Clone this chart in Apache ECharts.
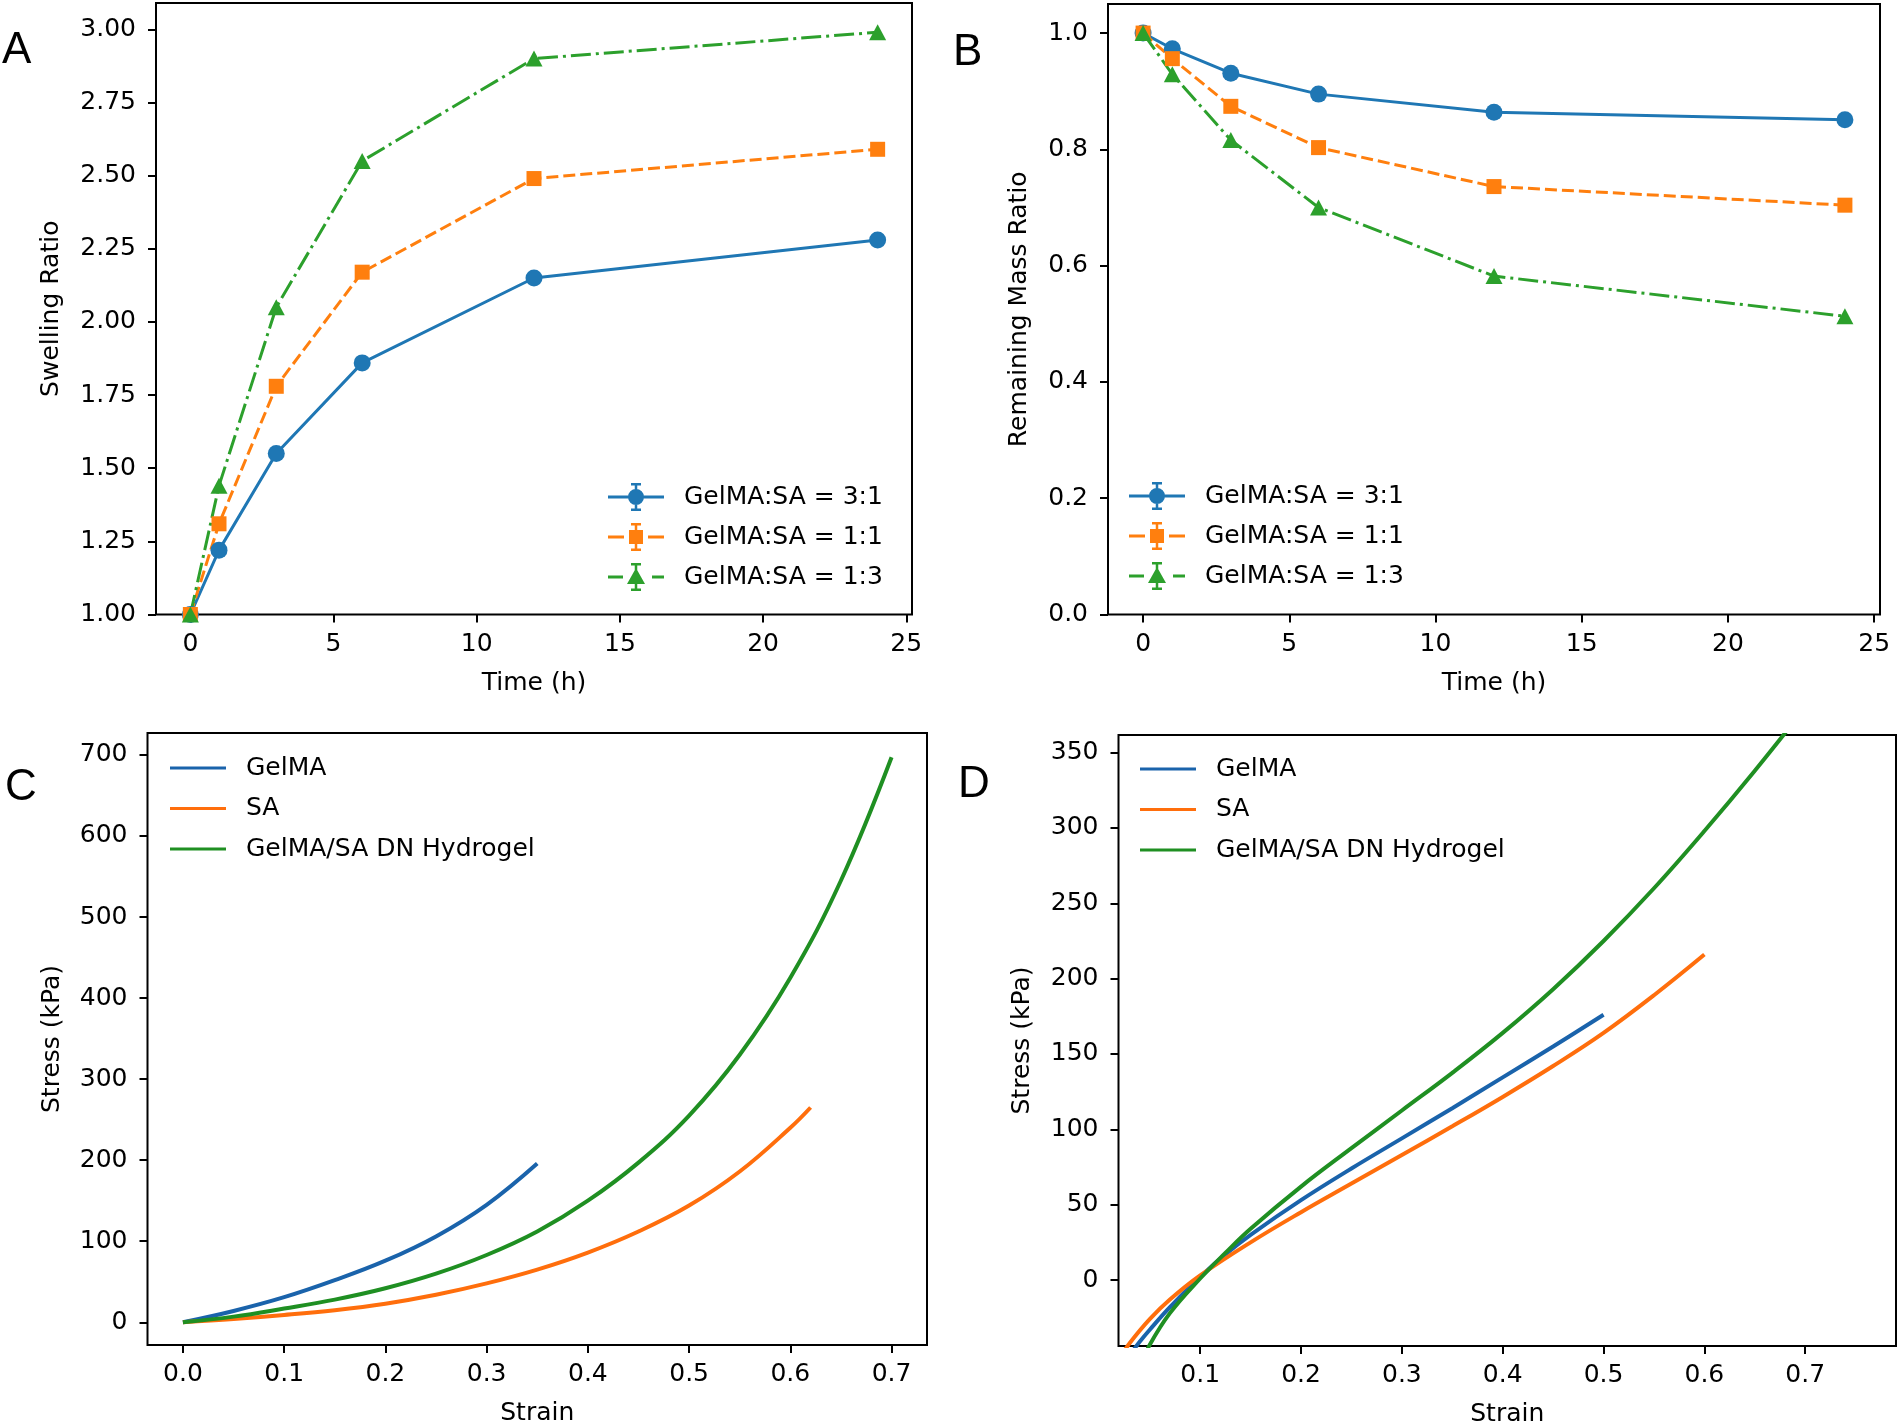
<!DOCTYPE html>
<html>
<head>
<meta charset="utf-8">
<script src="https://cdn.jsdelivr.net/npm/echarts@6/dist/echarts.min.js"></script>
<style>
  html, body { margin: 0; padding: 0; background: #fff; }
  #main { width: 1900px; height: 1425px; }
</style>
</head>
<body>
<div id="main"></div>
<script>
// ---- data ----
const timeH = [0, 1, 3, 6, 12, 24];
const swell31 = [1.00, 1.22, 1.55, 1.86, 2.15, 2.28];
const swell11 = [1.00, 1.31, 1.78, 2.17, 2.49, 2.59];
const swell13 = [1.00, 1.44, 2.05, 2.55, 2.90, 2.99];
const mass31 = [1.00, 0.973, 0.931, 0.895, 0.864, 0.851];
const mass11 = [1.00, 0.956, 0.874, 0.803, 0.736, 0.704];
const mass13 = [1.00, 0.929, 0.816, 0.700, 0.582, 0.513];

// panel C
const strainGelC = [0, 0.05, 0.1, 0.15, 0.2, 0.25, 0.3, 0.35];
const stressGelC = [0, 14, 31, 52, 76, 106, 145, 196];
const strainSaC = [0, 0.05, 0.1, 0.15, 0.2, 0.25, 0.3, 0.35, 0.4, 0.45, 0.5, 0.55, 0.6, 0.62];
const stressSaC = [0, 4, 9, 15, 23, 34, 48, 65, 86, 112, 144, 186, 240, 265];
const strainDnC = [0, 0.05, 0.1, 0.15, 0.2, 0.25, 0.3, 0.35, 0.4, 0.45, 0.5, 0.55, 0.6, 0.65, 0.7];
const stressDnC = [0, 7, 17, 28, 42, 60, 83, 112, 150, 197, 255, 330, 425, 545, 697];

// panel D
const strainGelD = [0.03, 0.04, 0.05, 0.07, 0.1, 0.125, 0.15, 0.2, 0.25, 0.3, 0.35, 0.4, 0.45, 0.5];
const stressGelD = [-50, -41, -33, -18, 2, 17, 30, 53, 74, 94, 114, 134.5, 155, 176];
const strainSaD = [0.02, 0.03, 0.05, 0.07, 0.1, 0.15, 0.2, 0.25, 0.3, 0.35, 0.4, 0.45, 0.5, 0.55, 0.6];
const stressSaD = [-52, -42, -26, -13, 3, 25, 45, 64, 83, 102, 121.5, 142, 164, 189, 216];
const strainDnD = [0.04, 0.05, 0.07, 0.1, 0.125, 0.15, 0.2, 0.25, 0.3, 0.35, 0.4, 0.45, 0.5, 0.55, 0.6, 0.65, 0.7];
const stressDnD = [-58, -43, -22, 1, 18, 34, 62, 87.5, 112.5, 137.5, 164, 193, 225, 260, 298, 338, 380];

// tick labels
const timeTicks = [0, 5, 10, 15, 20, 25];
const swellTicks = [1.0, 1.25, 1.5, 1.75, 2.0, 2.25, 2.5, 2.75, 3.0];
const massTicks = [0, 0.2, 0.4, 0.6, 0.8, 1.0];
const strainTicksC = [0, 0.1, 0.2, 0.3, 0.4, 0.5, 0.6, 0.7];
const stressTicksC = [0, 100, 200, 300, 400, 500, 600, 700];
const strainTicksD = [0.1, 0.2, 0.3, 0.4, 0.5, 0.6, 0.7];
const stressTicksD = [0, 50, 100, 150, 200, 250, 300, 350];

const ratioNames = ['GelMA:SA = 3:1', 'GelMA:SA = 1:1', 'GelMA:SA = 1:3'];
const gelNames = ['GelMA', 'SA', 'GelMA/SA DN Hydrogel'];

const BLUE = '#1f77b4', ORANGE = '#ff7f0e', GREEN = '#2ca02c';
const BLUE2 = '#1a63ab', ORANGE2 = '#ff6e0c', GREEN2 = '#1f8f22';
const FONT = 'DejaVu Sans';

function pairs(xs, ys) { return xs.map((x, i) => [x, ys[i]]); }

// legend icons (line + marker + error bar), 56 x 28 box
const ebar = ' M26.75 1 H29.25 V27 H26.75 Z M23 0 H33 V2.5 H23 Z M23 25.5 H33 V28 H23 Z';
const iconBlue = 'path://M0 12.5 H56 V15.5 H0 Z M20 14 A8 8 0 1 1 36 14 A8 8 0 1 1 20 14 Z' + ebar;
const iconOrange = 'path://M0 12.5 H16 V15.5 H0 Z M40 12.5 H56 V15.5 H40 Z M21 7 H35 V21 H21 Z' + ebar;
const iconGreen = 'path://M0 12.5 H15 V15.5 H0 Z M44 12.5 H56 V15.5 H44 Z M28 5 L37 21 H19 Z' + ebar;
const iconLine = 'path://M0 0 H56 V3 H0 Z';

function axisCommon(extra) {
  return Object.assign({
    type: 'value',
    axisLine: { show: false, onZero: false },
    splitLine: { show: false },
    nameLocation: 'middle',
    nameTextStyle: { fontFamily: FONT, fontSize: 25, color: '#000' }
  }, extra);
}
function xAx(grid, min, max, ticks, dec, name) {
  return axisCommon({
    gridIndex: grid, min: min, max: max, name: name, nameGap: 56,
    axisTick: { show: true, inside: false, length: 8, customValues: ticks, lineStyle: { color: '#000', width: 2 } },
    axisLabel: { customValues: ticks, margin: 17, fontFamily: FONT, fontSize: 25, color: '#000',
      formatter: v => v.toFixed(dec) }
  });
}
function yAx(grid, min, max, ticks, dec, name, gap) {
  return axisCommon({
    gridIndex: grid, min: min, max: max, name: name, nameGap: gap,
    axisTick: { show: true, inside: false, length: 8, customValues: ticks, lineStyle: { color: '#000', width: 2 } },
    axisLabel: { customValues: ticks, margin: 20, fontFamily: FONT, fontSize: 25, color: '#000',
      formatter: v => v.toFixed(dec) }
  });
}
function gridBox(left, top, right, bottom) {
  return { left: left, top: top, width: right - left, height: bottom - top, show: true,
    borderColor: '#000', borderWidth: 2, backgroundColor: 'transparent', containLabel: false, outerBoundsMode: 'none' };
}
function markerSeries(name, xi, ys, color, symbol, size, dash) {
  return {
    name: name, type: 'line', xAxisIndex: xi, yAxisIndex: xi, data: pairs(timeH, ys),
    symbol: symbol, symbolSize: size, showSymbol: true,
    lineStyle: { color: color, width: 3, type: dash, cap: 'butt' },
    itemStyle: { color: color, borderWidth: 0 },
    emphasis: { disabled: true }
  };
}
function curve(name, xi, xs, ys, color) {
  return {
    name: name, type: 'line', xAxisIndex: xi, yAxisIndex: xi, data: pairs(xs, ys),
    symbol: 'none', smooth: 0.4, clip: true,
    lineStyle: { color: color, width: 4 },
    itemStyle: { color: color },
    emphasis: { disabled: true }
  };
}
function legendAB(left, top) {
  return {
    left: left, top: top, orient: 'vertical', padding: 0, itemGap: 12,
    itemWidth: 56, itemHeight: 28, selectedMode: false,
    textStyle: { fontFamily: FONT, fontSize: 25, color: '#000', lineHeight: 28, padding: [0, 0, 0, 15] },
    data: [
      { name: ratioNames[0], icon: iconBlue, itemStyle: { color: BLUE, borderWidth: 0 } },
      { name: ratioNames[1], icon: iconOrange, itemStyle: { color: ORANGE, borderWidth: 0 } },
      { name: ratioNames[2], icon: iconGreen, itemStyle: { color: GREEN, borderWidth: 0 } }
    ]
  };
}
function legendCD(left, top) {
  return {
    left: left, top: top, orient: 'vertical', padding: 0, itemGap: 12.5,
    itemWidth: 56, itemHeight: 3.5, selectedMode: false,
    textStyle: { fontFamily: FONT, fontSize: 25, color: '#000', lineHeight: 28, padding: [0, 0, 0, 15] },
    data: [
      { name: gelNames[0], icon: iconLine, itemStyle: { color: BLUE2, borderWidth: 0 } },
      { name: gelNames[1], icon: iconLine, itemStyle: { color: ORANGE2, borderWidth: 0 } },
      { name: gelNames[2], icon: iconLine, itemStyle: { color: GREEN2, borderWidth: 0 } }
    ]
  };
}
function letter(t, x, y) {
  return { type: 'text', x: x, y: y,
    style: { text: t, fontFamily: 'Liberation Sans', fontSize: 44, fill: '#000', verticalAlign: 'middle' } };
}

const chart = echarts.init(document.getElementById('main'));
chart.setOption({
  animation: false,
  backgroundColor: '#fff',
  grid: [
    gridBox(156, 3, 912, 614.5),
    gridBox(1108, 4, 1880, 614.5),
    gridBox(147.5, 733, 927, 1345),
    gridBox(1118.5, 735, 1896, 1346)
  ],
  xAxis: [
    xAx(0, -1.2, 25.2, timeTicks, 0, 'Time (h)'),
    xAx(1, -1.2, 25.2, timeTicks, 0, 'Time (h)'),
    xAx(2, -0.035, 0.735, strainTicksC, 1, 'Strain'),
    xAx(3, 0.019, 0.79, strainTicksD, 1, 'Strain')
  ],
  yAxis: [
    yAx(0, 1.0, 3.09, swellTicks, 2, 'Swelling Ratio', 92),
    yAx(1, 0, 1.05, massTicks, 1, 'Remaining Mass Ratio', 76),
    yAx(2, -28, 727, stressTicksC, 0, 'Stress (kPa)', 83),
    yAx(3, -43.8, 361.7, stressTicksD, 0, 'Stress (kPa)', 84)
  ],
  legend: [
    legendAB(608, 483),
    legendAB(1129, 482),
    legendCD(170, 754),
    legendCD(1140, 755)
  ],
  graphic: [
    letter('A', 2, 51),
    letter('B', 953, 53),
    letter('C', 5, 788),
    letter('D', 958, 785)
  ],
  series: [
    markerSeries(ratioNames[0], 0, swell31, BLUE, 'circle', 17, 'solid'),
    markerSeries(ratioNames[1], 0, swell11, ORANGE, 'rect', 15, [12, 5]),
    markerSeries(ratioNames[2], 0, swell13, GREEN, 'triangle', [17, 16], [20, 5, 3, 5]),
    markerSeries(ratioNames[0], 1, mass31, BLUE, 'circle', 17, 'solid'),
    markerSeries(ratioNames[1], 1, mass11, ORANGE, 'rect', 15, [12, 5]),
    markerSeries(ratioNames[2], 1, mass13, GREEN, 'triangle', [17, 16], [20, 5, 3, 5]),
    curve(gelNames[0], 2, strainGelC, stressGelC, BLUE2),
    curve(gelNames[1], 2, strainSaC, stressSaC, ORANGE2),
    curve(gelNames[2], 2, strainDnC, stressDnC, GREEN2),
    curve(gelNames[0], 3, strainGelD, stressGelD, BLUE2),
    curve(gelNames[1], 3, strainSaD, stressSaD, ORANGE2),
    curve(gelNames[2], 3, strainDnD, stressDnD, GREEN2)
  ]
});
</script>
</body>
</html>
